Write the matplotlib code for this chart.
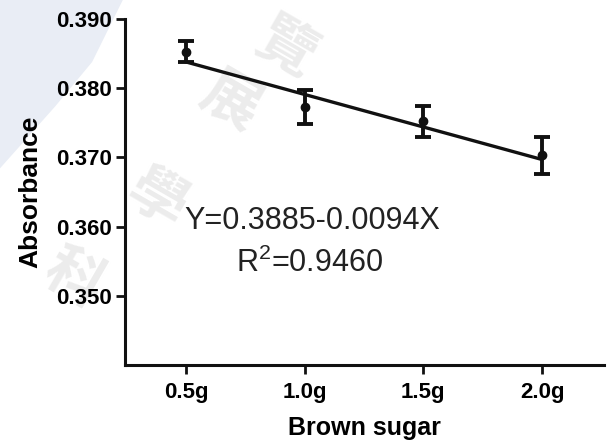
import numpy as np
import matplotlib
matplotlib.use('Agg')
import matplotlib.pyplot as plt
from matplotlib.patches import Polygon

plt.rcParams['font.family'] = ['Liberation Sans', 'DejaVu Sans']
plt.rcParams['mathtext.default'] = 'regular'

# data
sugar = [0.5, 1.0, 1.5, 2.0]
sugar_labels = ['0.5g', '1.0g', '1.5g', '2.0g']
absorbance = [0.3853, 0.3773, 0.3752, 0.3703]
sem = [0.0015, 0.0025, 0.0022, 0.0027]
intercept = 0.3885
slope = -0.0094
r2 = 0.9460

fig = plt.figure(figsize=(6.14, 4.43), dpi=100)

# faint watermark in the background
bg = Polygon([(0, 1), (0.20, 1), (0.15, 0.86), (0.09, 0.76), (0.0, 0.62)],
             closed=True, transform=fig.transFigure, facecolor='#e9edf5',
             edgecolor='none', zorder=-10)
fig.patches.append(bg)
for ch, (fx, fy) in zip('科學展覽', [(0.12, 0.37), (0.255, 0.55), (0.375, 0.77), (0.465, 0.89)]):
    fig.text(fx, fy, ch, fontsize=42, fontweight='bold', color='#ececec',
             rotation=-30, ha='center', va='center', zorder=-5,
             family=['Noto Sans CJK TC', 'DejaVu Sans'])

ax = fig.add_axes([0.2036, 0.176, 0.7801, 0.781])
ax.patch.set_alpha(0)

ax.errorbar(sugar, absorbance, yerr=sem, fmt='o', color='#111111', ms=6,
            elinewidth=2.8, capsize=6, capthick=2.8, zorder=3)
xf = np.array([sugar[0], sugar[-1]])
ax.plot(xf, intercept + slope * xf, color='#111111', lw=2.4, zorder=2)

ax.text(1.03, 0.3608, 'Y=0.3885-0.0094X', fontsize=22, color='#222222',
        ha='center', va='center')
ax.text(1.02, 0.3547, f'R$^2$={r2:.4f}', fontsize=22, color='#222222',
        ha='center', va='center')

ax.set_xlim(0.243, 2.261)
ax.set_ylim(0.340, 0.390)
ax.set_xticks(sugar)
ax.set_xticklabels(sugar_labels)
ax.set_yticks([0.350, 0.360, 0.370, 0.380, 0.390])
ax.set_yticklabels(['0.350', '0.360', '0.370', '0.380', '0.390'])

for s in ['top', 'right']:
    ax.spines[s].set_visible(False)
for s in ['left', 'bottom']:
    ax.spines[s].set_linewidth(2.2)
    ax.spines[s].set_color('#111111')
ax.tick_params(width=2, length=6.5, color='#111111', labelsize=16, pad=3)
ax.tick_params(axis='x', pad=6)
for lab in ax.get_xticklabels() + ax.get_yticklabels():
    lab.set_fontweight('bold')

ax.set_xlabel('Brown sugar', fontsize=18, fontweight='bold', labelpad=9)
ax.set_ylabel('Absorbance', fontsize=19, fontweight='bold', labelpad=10)

fig.savefig('out.png', dpi=100)
